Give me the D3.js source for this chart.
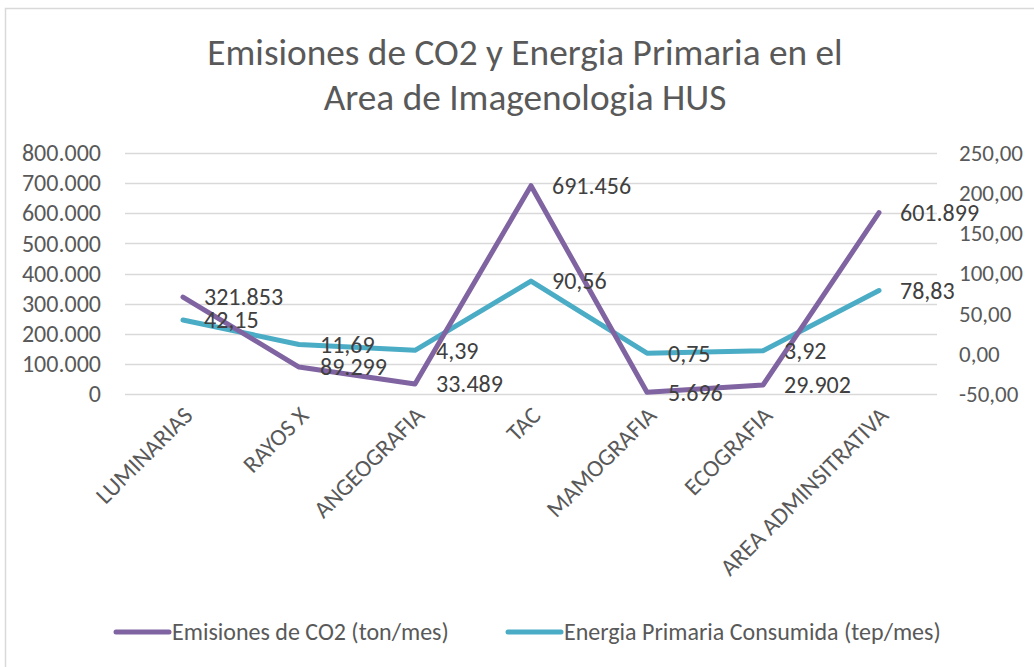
<!DOCTYPE html>
<html>
<head>
<meta charset="utf-8">
<script src="https://cdn.jsdelivr.net/npm/d3@7"></script>
<style>
  body { margin: 0; background: #fff; }
  text { font-family: Carlito, "Open Sans", sans-serif; }
</style>
</head>
<body>
<svg id="chart" width="1034" height="667"></svg>
<script>
var categories = ["LUMINARIAS", "RAYOS X", "ANGEOGRAFIA", "TAC", "MAMOGRAFIA", "ECOGRAFIA", "AREA ADMINSITRATIVA"];
var co2 = [321853, 89299, 33489, 691456, 5696, 29902, 601899];
var energia = [42.15, 11.69, 4.39, 90.56, 0.75, 3.92, 78.83];
var leftTicks = [0, 100000, 200000, 300000, 400000, 500000, 600000, 700000, 800000];
var rightTicks = [-50, 0, 50, 100, 150, 200, 250];
var seriesNames = ["Emisiones de CO2 (ton/mes)", "Energia Primaria Consumida (tep/mes)"];

var svg = d3.select("#chart");
var plotLeft = 125, plotRight = 937, plotTop = 153, plotBottom = 394;

var purple = "#8064a2", cyan = "#4bacc6", textColor = "#595959";

// chart frame (right and bottom edges fall outside the picture)
svg.append("rect").attr("x", 5.5).attr("y", 8.5).attr("width", 1040).attr("height", 670)
  .attr("fill", "#fff").attr("stroke", "#d9d9d9").attr("stroke-width", 1.5);

// title
var title = svg.append("text").attr("text-anchor", "middle").attr("fill", textColor)
  .style("font-size", "37.3px");
title.append("tspan").attr("x", 525).attr("y", 65).text("Emisiones de CO2 y Energia Primaria en el");
title.append("tspan").attr("x", 525).attr("y", 110).text("Area de Imagenologia HUS");

var x = d3.scaleBand().domain(categories).range([plotLeft, plotRight]);
var yL = d3.scaleLinear().domain([0, 800000]).range([plotBottom, plotTop]);
var yR = d3.scaleLinear().domain([-50, 250]).range([plotBottom, plotTop]);

var fmtL = function (d) { return d3.format(",")(d).replace(/,/g, "."); };
var fmtR = function (d) { return d.toFixed(2).replace(".", ","); };

// gridlines
svg.append("g").selectAll("line").data(leftTicks).enter().append("line")
  .attr("x1", plotLeft).attr("x2", plotRight)
  .attr("y1", function (d) { return Math.round(yL(d)) + 0.5; })
  .attr("y2", function (d) { return Math.round(yL(d)) + 0.5; })
  .attr("stroke", "#d9d9d9").attr("stroke-width", 1.3);

// left axis
var axL = svg.append("g").attr("transform", "translate(" + (plotLeft - 24) + ",0)")
  .call(d3.axisLeft(yL).tickValues(leftTicks).tickFormat(fmtL).tickSize(0).tickPadding(0));
axL.select(".domain").remove();
axL.selectAll("text").attr("fill", textColor).style("font-size", "24px");

// right axis
var axR = svg.append("g").attr("transform", "translate(" + (plotRight + 22) + ",0)")
  .call(d3.axisRight(yR).tickValues(rightTicks).tickFormat(fmtR).tickSize(0).tickPadding(0));
axR.select(".domain").remove();
axR.selectAll("text").attr("fill", textColor).style("font-size", "23px");
axL.attr("font-family", null); axR.attr("font-family", null);

// category labels
svg.append("g").selectAll("text").data(categories).enter().append("text")
  .attr("transform", function (d) {
    return "translate(" + (x(d) + x.bandwidth() / 2 + 5) + "," + (plotBottom + 17) + ") rotate(-45)";
  })
  .attr("text-anchor", "end").attr("dy", "0.35em")
  .attr("fill", textColor).style("font-size", "24px")
  .text(function (d) { return d; });

function cx(i) { return x(categories[i]) + x.bandwidth() / 2; }

var lineL = d3.line().x(function (d, i) { return cx(i); }).y(function (d) { return yL(d); });
var lineR = d3.line().x(function (d, i) { return cx(i); }).y(function (d) { return yR(d); });

svg.append("path").datum(energia).attr("d", lineR).attr("fill", "none")
  .attr("stroke", cyan).attr("stroke-width", 5).attr("stroke-linecap", "round").attr("stroke-linejoin", "round");
svg.append("path").datum(co2).attr("d", lineL).attr("fill", "none")
  .attr("stroke", purple).attr("stroke-width", 5).attr("stroke-linecap", "round").attr("stroke-linejoin", "round");

// data labels
svg.append("g").selectAll("text").data(co2).enter().append("text")
  .attr("x", function (d, i) { return cx(i) + 21; })
  .attr("y", function (d) { return yL(d); })
  .attr("dy", "0.35em").attr("fill", "#404040").style("font-size", "24px")
  .text(fmtL);
svg.append("g").selectAll("text").data(energia).enter().append("text")
  .attr("x", function (d, i) { return cx(i) + 21; })
  .attr("y", function (d) { return yR(d); })
  .attr("dy", "0.35em").attr("fill", "#404040").style("font-size", "24px")
  .text(fmtR);

// legend
var legendItems = [
  { name: seriesNames[0], color: purple, x0: 116, x1: 169 },
  { name: seriesNames[1], color: cyan, x0: 508, x1: 561 }
];
var lg = svg.append("g").selectAll("g").data(legendItems).enter().append("g");
lg.append("line")
  .attr("x1", function (d) { return d.x0; }).attr("x2", function (d) { return d.x1; })
  .attr("y1", 632).attr("y2", 632)
  .attr("stroke", function (d) { return d.color; }).attr("stroke-width", 5).attr("stroke-linecap", "round");
lg.append("text")
  .attr("x", function (d) { return d.x1 + 3; }).attr("y", 632).attr("dy", "0.35em")
  .attr("fill", textColor).style("font-size", "24px")
  .text(function (d) { return d.name; });
</script>
</body>
</html>
